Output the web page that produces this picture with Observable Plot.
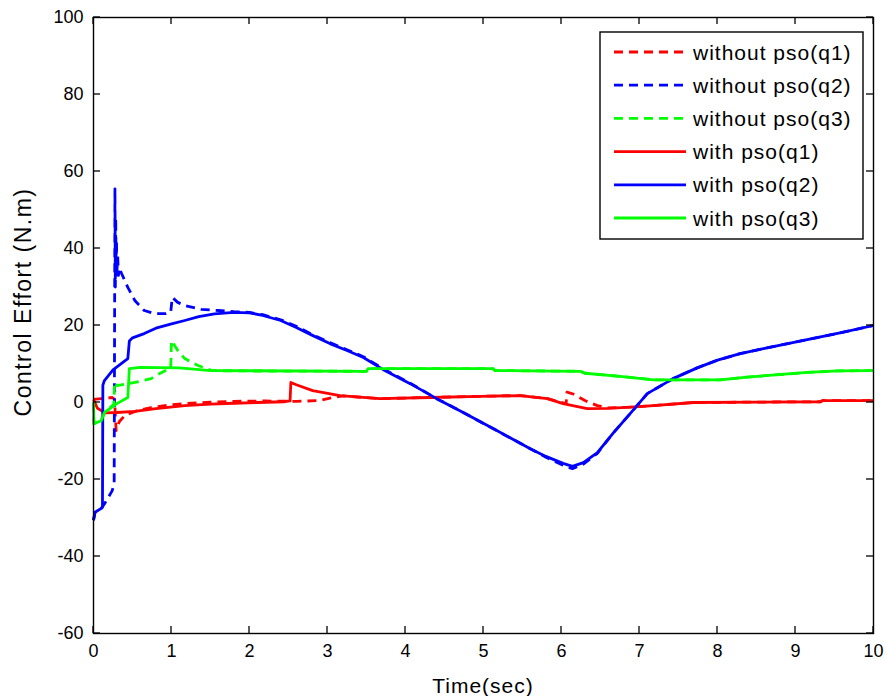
<!DOCTYPE html>
<html>
<head>
<meta charset="utf-8">
<script src="https://cdn.jsdelivr.net/npm/d3@7"></script>
<script src="https://cdn.jsdelivr.net/npm/@observablehq/plot@0.6"></script>
<style>
  body { margin: 0; background: #fff; }
  #chart svg { display: block; }
</style>
</head>
<body>
<div id="chart"></div>
<script>
// Control effort of the three joints, with and without PSO-tuned gains.
const xTicks = [0, 1, 2, 3, 4, 5, 6, 7, 8, 9, 10];
const yTicks = [-60, -40, -20, 0, 20, 40, 60, 80, 100];

// q1 without PSO
const tQ1Without = [0, 0.1, 0.24, 0.27, 0.29, 0.33, 0.4, 0.55, 0.74, 0.95, 1.17, 1.5, 1.8, 2.2, 2.6, 2.9, 3.05, 3.2, 3.67, 4.31, 4.95, 5.47, 5.82, 6.02, 6.06, 6.07, 6.15, 6.3, 6.46, 6.6, 6.88, 7.18, 7.69, 8.5, 9.32, 9.35, 10];
const vQ1Without = [0.8, 1.0, 1.3, 0.8, -7.3, -5.0, -3.4, -2.2, -1.3, -0.7, -0.3, 0.1, 0.3, 0.4, 0.3, 0.5, 1.2, 1.7, 1.0, 1.3, 1.6, 1.8, 1.0, -0.1, -0.2, 2.7, 2.2, 0.5, -0.8, -1.4, -1.2, -0.8, 0, 0.1, 0.2, 0.5, 0.5];

// q2 without PSO
const tQ2Without = [0, 0.02, 0.1, 0.15, 0.24, 0.265, 0.275, 0.28, 0.285, 0.29, 0.295, 0.3, 0.31, 0.32, 0.33, 0.36, 0.44, 0.53, 0.65, 0.78, 0.93, 0.99, 1.01, 1.08, 1.17, 1.38, 1.6, 1.8, 2.0, 2.17, 2.4, 2.6, 2.8, 3.03, 3.25, 3.46, 3.71, 4.06, 4.4, 4.74, 5.17, 5.6, 5.8, 6.02, 6.14, 6.28, 6.46, 6.66, 6.88, 7.1, 7.43, 7.74, 8.0, 8.29, 8.59, 9.15, 9.6, 10];
const vQ2Without = [-30.6, -28.5, -27.5, -26, -22.9, -21, 55.5, 30, 48, 33, 42, 34, 38, 33, 35, 33.5, 29.9, 26.5, 23.9, 23.1, 23.1, 23.5, 27.3, 26, 25.2, 24.2, 23.9, 23.6, 23.4, 22.8, 21.5, 19.8, 17.7, 15.6, 13.7, 11.9, 8.8, 5.0, 1.0, -2.6, -7.3, -12, -14.2, -16.3, -17.2, -16, -13.2, -8, -2.9, 2.3, 6.2, 9.0, 11.0, 12.7, 14.0, 16.3, 18.2, 20];

// q3 without PSO
const tQ3Without = [0, 0.005, 0.1, 0.14, 0.26, 0.27, 0.3, 0.53, 0.74, 0.8, 0.99, 1.0, 1.08, 1.17, 1.34, 1.52, 1.8, 3.5, 3.52, 5.12, 5.15, 6.24, 6.3, 6.75, 7.18, 8.04, 8.38, 9.15, 9.54, 10];
const vQ3Without = [0, -5.5, -4.7, -2.6, -0.5, 5.3, 4.4, 5.2, 6.2, 7.0, 9.0, 16.1, 13.5, 11.4, 9.6, 8.3, 8.2, 8.1, 8.8, 8.8, 8.3, 8.1, 7.6, 6.8, 5.9, 5.9, 6.6, 7.8, 8.2, 8.3];

// q1 with PSO
const tQ1With = [0, 0.05, 0.15, 0.3, 0.53, 0.8, 1.17, 1.5, 1.8, 2.1, 2.45, 2.52, 2.53, 2.6, 2.81, 3.16, 3.67, 4.31, 4.95, 5.47, 5.82, 6.02, 6.33, 6.6, 6.88, 7.18, 7.69, 8.5, 9.32, 9.35, 10];
const vQ1With = [0.8, -1.5, -2.7, -2.6, -2.3, -1.6, -0.8, -0.4, -0.2, 0, 0.2, 0.4, 5.2, 4.6, 3.1, 1.8, 1.0, 1.3, 1.6, 1.8, 1.0, -0.3, -1.6, -1.5, -1.2, -0.8, 0, 0.1, 0.2, 0.5, 0.5];

// q2 with PSO
const tQ2With = [0, 0.02, 0.1, 0.115, 0.12, 0.14, 0.25, 0.44, 0.46, 0.5, 0.65, 0.8, 1.0, 1.17, 1.35, 1.55, 1.8, 2.0, 2.17, 2.4, 2.6, 2.8, 3.03, 3.25, 3.46, 3.71, 4.06, 4.4, 4.74, 5.17, 5.6, 5.8, 6.02, 6.14, 6.28, 6.46, 6.66, 6.88, 7.1, 7.43, 7.74, 8.0, 8.29, 8.59, 9.15, 9.6, 10];
const vQ2With = [-30.6, -28.5, -27.5, -27.2, 4.5, 5.7, 8.5, 11.4, 16, 16.8, 17.9, 19.3, 20.4, 21.3, 22.3, 23, 23.4, 23.3, 22.6, 21.3, 19.5, 17.5, 15.3, 13.5, 11.7, 8.6, 4.9, 1.0, -2.6, -7.3, -12, -14, -15.8, -16.6, -15.6, -13, -8, -2.9, 2.3, 6.2, 9.0, 11.0, 12.7, 14.0, 16.3, 18.2, 20];

// q3 with PSO
const tQ3With = [0, 0.005, 0.1, 0.14, 0.3, 0.44, 0.46, 0.6, 1.1, 1.5, 3.5, 3.52, 5.12, 5.15, 6.24, 6.3, 6.75, 7.18, 8.04, 8.38, 9.15, 9.54, 10];
const vQ3With = [0, -5.5, -4.7, -2.6, -0.3, 1.3, 8.8, 9.1, 9.0, 8.3, 8.1, 8.8, 8.8, 8.3, 8.1, 7.6, 6.8, 5.9, 5.9, 6.6, 7.8, 8.2, 8.3];

const seriesNames = ["without pso(q1)", "without pso(q2)", "without pso(q3)", "with pso(q1)", "with pso(q2)", "with pso(q3)"];
const seriesColors = ["#ff0000", "#0000ff", "#00ff00", "#ff0000", "#0000ff", "#00ff00"];
const seriesDashed = [true, true, true, false, false, false];
const seriesT = [tQ1Without, tQ2Without, tQ3Without, tQ1With, tQ2With, tQ3With];
const seriesV = [vQ1Without, vQ2Without, vQ3Without, vQ1With, vQ2With, vQ3With];

const DASH = "9,6";
const LINE_W = 2.8;

const series = seriesNames.map((name, i) => ({
  name,
  color: seriesColors[i],
  dashed: seriesDashed[i],
  rows: seriesT[i].map((t, j) => ({t, v: seriesV[i][j]}))
}));

const fontFamily = "'Liberation Sans', Arial, Helvetica, sans-serif";

const W = 885, H = 696;
const M = {left: 93, right: 12, top: 17, bottom: 63};
const TICK = 7;

const chart = Plot.plot({
  width: W,
  height: H,
  marginLeft: M.left,
  marginRight: M.right,
  marginTop: M.top,
  marginBottom: M.bottom,
  style: {fontFamily, fontSize: "18px", background: "#fff", color: "#000", overflow: "visible"},
  x: {domain: [0, 10]},
  y: {domain: [-60, 100]},
  marks: [
    ...series.map(s => Plot.line(s.rows, {
      x: "t", y: "v",
      stroke: s.color,
      strokeWidth: LINE_W,
      strokeDasharray: s.dashed ? DASH : null,
      strokeLinejoin: "round",
      strokeLinecap: "butt"
    })),
    // tick labels
    Plot.axisX({ticks: xTicks, tickSize: 0, tickPadding: 11, tickFormat: d => String(d), label: null}),
    Plot.axisY({ticks: yTicks, tickSize: 0, tickPadding: 10, tickFormat: d => String(d), label: null}),
    Plot.frame({stroke: "#000", strokeWidth: 1.4})
  ]
});

document.getElementById("chart").appendChild(chart);

// Short tick marks pointing into the plot on all four sides, placed with the chart's own scales
const svg = d3.select(chart);
const sx = chart.scale("x"), sy = chart.scale("y");
const x0 = M.left, x1 = W - M.right, y0 = M.top, y1 = H - M.bottom;
const ticks = svg.append("g").attr("stroke", "#000").attr("stroke-width", 1.3);
xTicks.forEach(d => {
  const px = sx.apply(d);
  ticks.append("line").attr("x1", px).attr("x2", px).attr("y1", y1).attr("y2", y1 - TICK);
  ticks.append("line").attr("x1", px).attr("x2", px).attr("y1", y0).attr("y2", y0 + TICK);
});
yTicks.forEach(d => {
  const py = sy.apply(d);
  ticks.append("line").attr("x1", x0).attr("x2", x0 + TICK).attr("y1", py).attr("y2", py);
  ticks.append("line").attr("x1", x1).attr("x2", x1 - TICK).attr("y1", py).attr("y2", py);
});

// Axis titles and the boxed legend
svg.append("text")
  .attr("x", 483).attr("y", 693)
  .attr("text-anchor", "middle")
  .style("font-family", fontFamily).style("font-size", "21px").style("letter-spacing", "1px")
  .text("Time(sec)");
svg.append("text")
  .attr("transform", "translate(31,302) rotate(-90)")
  .attr("text-anchor", "middle")
  .style("font-family", fontFamily).style("font-size", "23px").style("letter-spacing", "1.5px")
  .text("Control Effort (N.m)");

const legend = svg.append("g");
legend.append("rect")
  .attr("x", 600).attr("y", 32).attr("width", 263).attr("height", 207)
  .attr("fill", "#fff").attr("stroke", "#000").attr("stroke-width", 1.4);
series.forEach((s, i) => {
  const cy = 52 + i * 33.2;
  legend.append("line")
    .attr("x1", 614).attr("x2", 686).attr("y1", cy).attr("y2", cy)
    .attr("stroke", s.color).attr("stroke-width", LINE_W)
    .attr("stroke-dasharray", s.dashed ? DASH : null);
  legend.append("text")
    .attr("x", 693).attr("y", cy).attr("dy", "0.36em")
    .attr("text-anchor", "start")
    .style("font-family", fontFamily).style("font-size", "21px").style("letter-spacing", "1px")
    .text(s.name);
});
</script>
</body>
</html>
